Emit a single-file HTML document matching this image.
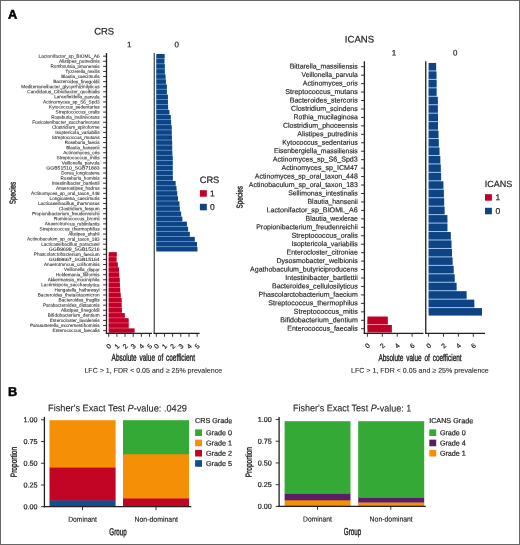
<!DOCTYPE html>
<html lang="en">
<head>
<meta charset="utf-8">
<title>Figure: CRS and ICANS species coefficients and grade proportions</title>
<style>
html,body{margin:0;padding:0;background:#fff;}
#fig{position:relative;width:520px;height:545px;overflow:hidden;background:#fff;}
#fig svg{position:absolute;left:0;top:0;display:block;}
#frame{position:absolute;left:0;top:0;width:518px;height:543px;border:1px solid #666;pointer-events:none;}
svg text{font-family:"Liberation Sans", sans-serif;fill:#231f20;stroke:#231f20;stroke-width:0.22px;stroke-linejoin:round;}
svg .sm text{stroke-width:0.07px;}
svg .md text{stroke-width:0.16px;}
svg text.lt{stroke-width:0.1px;}
</style>
</head>
<body>
<div id="fig">
<svg width="520" height="545" viewBox="0 0 520 545">
<defs><filter id="soft" x="-2%" y="-2%" width="104%" height="104%" color-interpolation-filters="sRGB"><feGaussianBlur stdDeviation="0.24"/></filter><filter id="soft2" x="-2%" y="-2%" width="104%" height="104%" color-interpolation-filters="sRGB"><feGaussianBlur stdDeviation="0.3"/></filter></defs>
<text x="8.00" y="18.80" font-size="12.8" font-weight="bold" transform="matrix(1 0.001 0 1 0 -0.0080)" fill="#000" style="fill:#000;stroke:#000;stroke-width:0.5px;stroke-linejoin:round">A</text>
<text x="8.00" y="396.10" font-size="12.8" font-weight="bold" transform="matrix(1 0.001 0 1 0 -0.0080)" fill="#000" style="fill:#000;stroke:#000;stroke-width:0.5px;stroke-linejoin:round">B</text>
<g>
<text x="94.30" y="34.50" font-size="9.4" transform="matrix(1 0.001 0 1 0 -0.0943)">CRS</text>
<text x="129.30" y="47.20" font-size="8" text-anchor="middle" transform="matrix(1 0.001 0 1 0 -0.1293)">1</text>
<text x="176.80" y="47.20" font-size="8" text-anchor="middle" transform="matrix(1 0.001 0 1 0 -0.1768)">0</text>
<rect x="156.30" y="56.20" width="8.10" height="5.08" fill="#7ab2f0"/>
<rect x="156.30" y="61.28" width="8.10" height="5.08" fill="#7ab2f0"/>
<rect x="156.30" y="66.36" width="8.50" height="5.08" fill="#7ab2f0"/>
<rect x="156.30" y="71.44" width="8.50" height="5.08" fill="#7ab2f0"/>
<rect x="156.30" y="76.52" width="9.20" height="5.08" fill="#7ab2f0"/>
<rect x="156.30" y="81.61" width="9.60" height="5.08" fill="#7ab2f0"/>
<rect x="156.30" y="86.69" width="10.55" height="5.08" fill="#7ab2f0"/>
<rect x="156.30" y="91.77" width="10.55" height="5.08" fill="#7ab2f0"/>
<rect x="156.30" y="96.85" width="11.60" height="5.08" fill="#7ab2f0"/>
<rect x="156.30" y="101.93" width="11.60" height="5.08" fill="#7ab2f0"/>
<rect x="156.30" y="107.01" width="11.80" height="5.08" fill="#7ab2f0"/>
<rect x="156.30" y="112.09" width="13.10" height="5.08" fill="#7ab2f0"/>
<rect x="156.30" y="117.17" width="14.50" height="5.08" fill="#7ab2f0"/>
<rect x="156.30" y="122.25" width="14.80" height="5.08" fill="#7ab2f0"/>
<rect x="156.30" y="127.33" width="15.40" height="5.08" fill="#7ab2f0"/>
<rect x="156.30" y="132.42" width="15.40" height="5.08" fill="#7ab2f0"/>
<rect x="156.30" y="137.50" width="15.60" height="5.08" fill="#7ab2f0"/>
<rect x="156.30" y="142.58" width="15.85" height="5.08" fill="#7ab2f0"/>
<rect x="156.30" y="147.66" width="15.85" height="5.08" fill="#7ab2f0"/>
<rect x="156.30" y="152.74" width="16.00" height="5.08" fill="#7ab2f0"/>
<rect x="156.30" y="157.82" width="16.40" height="5.08" fill="#7ab2f0"/>
<rect x="156.30" y="162.90" width="16.40" height="5.08" fill="#7ab2f0"/>
<rect x="156.30" y="167.98" width="16.40" height="5.08" fill="#7ab2f0"/>
<rect x="156.30" y="173.06" width="16.40" height="5.08" fill="#7ab2f0"/>
<rect x="156.30" y="178.14" width="16.55" height="5.08" fill="#7ab2f0"/>
<rect x="156.30" y="183.23" width="19.30" height="5.08" fill="#7ab2f0"/>
<rect x="156.30" y="188.31" width="20.20" height="5.08" fill="#7ab2f0"/>
<rect x="156.30" y="193.39" width="20.90" height="5.08" fill="#7ab2f0"/>
<rect x="156.30" y="198.47" width="21.70" height="5.08" fill="#7ab2f0"/>
<rect x="156.30" y="203.55" width="23.10" height="5.08" fill="#7ab2f0"/>
<rect x="156.30" y="208.63" width="23.50" height="5.08" fill="#7ab2f0"/>
<rect x="156.30" y="213.71" width="24.85" height="5.08" fill="#7ab2f0"/>
<rect x="156.30" y="218.79" width="26.00" height="5.08" fill="#7ab2f0"/>
<rect x="156.30" y="223.87" width="30.60" height="5.08" fill="#7ab2f0"/>
<rect x="156.30" y="228.95" width="31.80" height="5.08" fill="#7ab2f0"/>
<rect x="156.30" y="234.04" width="33.50" height="5.08" fill="#7ab2f0"/>
<rect x="156.30" y="239.12" width="38.50" height="5.08" fill="#7ab2f0"/>
<rect x="156.30" y="244.20" width="40.70" height="5.08" fill="#7ab2f0"/>
<rect x="108.70" y="254.36" width="7.80" height="5.08" fill="#ff6a80"/>
<rect x="108.70" y="259.44" width="7.80" height="5.08" fill="#ff6a80"/>
<rect x="108.70" y="264.52" width="9.10" height="5.08" fill="#ff6a80"/>
<rect x="108.70" y="269.60" width="10.30" height="5.08" fill="#ff6a80"/>
<rect x="108.70" y="274.68" width="10.50" height="5.08" fill="#ff6a80"/>
<rect x="108.70" y="279.76" width="11.00" height="5.08" fill="#ff6a80"/>
<rect x="108.70" y="284.85" width="11.20" height="5.08" fill="#ff6a80"/>
<rect x="108.70" y="289.93" width="11.50" height="5.08" fill="#ff6a80"/>
<rect x="108.70" y="295.01" width="12.00" height="5.08" fill="#ff6a80"/>
<rect x="108.70" y="300.09" width="12.90" height="5.08" fill="#ff6a80"/>
<rect x="108.70" y="305.17" width="12.90" height="5.08" fill="#ff6a80"/>
<rect x="108.70" y="310.25" width="13.20" height="5.08" fill="#ff6a80"/>
<rect x="108.70" y="315.33" width="16.10" height="5.08" fill="#ff6a80"/>
<rect x="108.70" y="320.41" width="19.95" height="5.08" fill="#ff6a80"/>
<rect x="108.70" y="325.49" width="19.95" height="5.08" fill="#ff6a80"/>
<rect x="156.30" y="53.98" width="8.35" height="4.45" fill="#0e4484"/>
<rect x="156.30" y="59.06" width="8.10" height="4.45" fill="#0e4484"/>
<rect x="156.30" y="64.14" width="8.50" height="4.45" fill="#0e4484"/>
<rect x="156.30" y="69.22" width="8.50" height="4.45" fill="#0e4484"/>
<rect x="156.30" y="74.30" width="9.20" height="4.45" fill="#0e4484"/>
<rect x="156.30" y="79.38" width="9.60" height="4.45" fill="#0e4484"/>
<rect x="156.30" y="84.46" width="10.55" height="4.45" fill="#0e4484"/>
<rect x="156.30" y="89.54" width="10.55" height="4.45" fill="#0e4484"/>
<rect x="156.30" y="94.62" width="11.60" height="4.45" fill="#0e4484"/>
<rect x="156.30" y="99.70" width="11.60" height="4.45" fill="#0e4484"/>
<rect x="156.30" y="104.79" width="11.80" height="4.45" fill="#0e4484"/>
<rect x="156.30" y="109.87" width="13.10" height="4.45" fill="#0e4484"/>
<rect x="156.30" y="114.95" width="14.50" height="4.45" fill="#0e4484"/>
<rect x="156.30" y="120.03" width="14.80" height="4.45" fill="#0e4484"/>
<rect x="156.30" y="125.11" width="15.40" height="4.45" fill="#0e4484"/>
<rect x="156.30" y="130.19" width="15.40" height="4.45" fill="#0e4484"/>
<rect x="156.30" y="135.27" width="15.60" height="4.45" fill="#0e4484"/>
<rect x="156.30" y="140.35" width="15.85" height="4.45" fill="#0e4484"/>
<rect x="156.30" y="145.43" width="15.85" height="4.45" fill="#0e4484"/>
<rect x="156.30" y="150.51" width="16.00" height="4.45" fill="#0e4484"/>
<rect x="156.30" y="155.59" width="16.40" height="4.45" fill="#0e4484"/>
<rect x="156.30" y="160.68" width="16.40" height="4.45" fill="#0e4484"/>
<rect x="156.30" y="165.76" width="16.40" height="4.45" fill="#0e4484"/>
<rect x="156.30" y="170.84" width="16.40" height="4.45" fill="#0e4484"/>
<rect x="156.30" y="175.92" width="16.55" height="4.45" fill="#0e4484"/>
<rect x="156.30" y="181.00" width="19.30" height="4.45" fill="#0e4484"/>
<rect x="156.30" y="186.08" width="20.20" height="4.45" fill="#0e4484"/>
<rect x="156.30" y="191.16" width="20.90" height="4.45" fill="#0e4484"/>
<rect x="156.30" y="196.24" width="21.70" height="4.45" fill="#0e4484"/>
<rect x="156.30" y="201.32" width="23.10" height="4.45" fill="#0e4484"/>
<rect x="156.30" y="206.41" width="23.50" height="4.45" fill="#0e4484"/>
<rect x="156.30" y="211.49" width="24.85" height="4.45" fill="#0e4484"/>
<rect x="156.30" y="216.57" width="26.00" height="4.45" fill="#0e4484"/>
<rect x="156.30" y="221.65" width="30.60" height="4.45" fill="#0e4484"/>
<rect x="156.30" y="226.73" width="31.80" height="4.45" fill="#0e4484"/>
<rect x="156.30" y="231.81" width="33.50" height="4.45" fill="#0e4484"/>
<rect x="156.30" y="236.89" width="38.50" height="4.45" fill="#0e4484"/>
<rect x="156.30" y="241.97" width="40.70" height="4.45" fill="#0e4484"/>
<rect x="156.30" y="247.05" width="41.20" height="4.45" fill="#0e4484"/>
<rect x="108.70" y="252.13" width="8.10" height="4.45" fill="#bf0029"/>
<rect x="108.70" y="257.21" width="7.80" height="4.45" fill="#bf0029"/>
<rect x="108.70" y="262.30" width="9.10" height="4.45" fill="#bf0029"/>
<rect x="108.70" y="267.38" width="10.30" height="4.45" fill="#bf0029"/>
<rect x="108.70" y="272.46" width="10.50" height="4.45" fill="#bf0029"/>
<rect x="108.70" y="277.54" width="11.00" height="4.45" fill="#bf0029"/>
<rect x="108.70" y="282.62" width="11.20" height="4.45" fill="#bf0029"/>
<rect x="108.70" y="287.70" width="11.50" height="4.45" fill="#bf0029"/>
<rect x="108.70" y="292.78" width="12.00" height="4.45" fill="#bf0029"/>
<rect x="108.70" y="297.86" width="12.90" height="4.45" fill="#bf0029"/>
<rect x="108.70" y="302.94" width="12.90" height="4.45" fill="#bf0029"/>
<rect x="108.70" y="308.02" width="13.20" height="4.45" fill="#bf0029"/>
<rect x="108.70" y="313.11" width="16.10" height="4.45" fill="#bf0029"/>
<rect x="108.70" y="318.19" width="19.95" height="4.45" fill="#bf0029"/>
<rect x="108.70" y="323.27" width="19.95" height="4.45" fill="#bf0029"/>
<rect x="108.70" y="328.35" width="25.90" height="4.45" fill="#bf0029"/>
<line x1="106.50" y1="53.00" x2="106.50" y2="334.00" stroke="#231f20" stroke-width="1.3"/>
<line x1="154.25" y1="53.00" x2="154.25" y2="334.00" stroke="#33373d" stroke-width="1.15"/>
<line x1="105.85" y1="333.40" x2="152.00" y2="333.40" stroke="#231f20" stroke-width="1.3"/>
<line x1="153.60" y1="333.40" x2="199.60" y2="333.40" stroke="#231f20" stroke-width="1.3"/>
<line x1="103.10" y1="56.20" x2="106.50" y2="56.20" stroke="#231f20" stroke-width="0.9"/>
<line x1="103.10" y1="61.28" x2="106.50" y2="61.28" stroke="#231f20" stroke-width="0.9"/>
<line x1="103.10" y1="66.36" x2="106.50" y2="66.36" stroke="#231f20" stroke-width="0.9"/>
<line x1="103.10" y1="71.44" x2="106.50" y2="71.44" stroke="#231f20" stroke-width="0.9"/>
<line x1="103.10" y1="76.52" x2="106.50" y2="76.52" stroke="#231f20" stroke-width="0.9"/>
<line x1="103.10" y1="81.61" x2="106.50" y2="81.61" stroke="#231f20" stroke-width="0.9"/>
<line x1="103.10" y1="86.69" x2="106.50" y2="86.69" stroke="#231f20" stroke-width="0.9"/>
<line x1="103.10" y1="91.77" x2="106.50" y2="91.77" stroke="#231f20" stroke-width="0.9"/>
<line x1="103.10" y1="96.85" x2="106.50" y2="96.85" stroke="#231f20" stroke-width="0.9"/>
<line x1="103.10" y1="101.93" x2="106.50" y2="101.93" stroke="#231f20" stroke-width="0.9"/>
<line x1="103.10" y1="107.01" x2="106.50" y2="107.01" stroke="#231f20" stroke-width="0.9"/>
<line x1="103.10" y1="112.09" x2="106.50" y2="112.09" stroke="#231f20" stroke-width="0.9"/>
<line x1="103.10" y1="117.17" x2="106.50" y2="117.17" stroke="#231f20" stroke-width="0.9"/>
<line x1="103.10" y1="122.25" x2="106.50" y2="122.25" stroke="#231f20" stroke-width="0.9"/>
<line x1="103.10" y1="127.33" x2="106.50" y2="127.33" stroke="#231f20" stroke-width="0.9"/>
<line x1="103.10" y1="132.42" x2="106.50" y2="132.42" stroke="#231f20" stroke-width="0.9"/>
<line x1="103.10" y1="137.50" x2="106.50" y2="137.50" stroke="#231f20" stroke-width="0.9"/>
<line x1="103.10" y1="142.58" x2="106.50" y2="142.58" stroke="#231f20" stroke-width="0.9"/>
<line x1="103.10" y1="147.66" x2="106.50" y2="147.66" stroke="#231f20" stroke-width="0.9"/>
<line x1="103.10" y1="152.74" x2="106.50" y2="152.74" stroke="#231f20" stroke-width="0.9"/>
<line x1="103.10" y1="157.82" x2="106.50" y2="157.82" stroke="#231f20" stroke-width="0.9"/>
<line x1="103.10" y1="162.90" x2="106.50" y2="162.90" stroke="#231f20" stroke-width="0.9"/>
<line x1="103.10" y1="167.98" x2="106.50" y2="167.98" stroke="#231f20" stroke-width="0.9"/>
<line x1="103.10" y1="173.06" x2="106.50" y2="173.06" stroke="#231f20" stroke-width="0.9"/>
<line x1="103.10" y1="178.14" x2="106.50" y2="178.14" stroke="#231f20" stroke-width="0.9"/>
<line x1="103.10" y1="183.23" x2="106.50" y2="183.23" stroke="#231f20" stroke-width="0.9"/>
<line x1="103.10" y1="188.31" x2="106.50" y2="188.31" stroke="#231f20" stroke-width="0.9"/>
<line x1="103.10" y1="193.39" x2="106.50" y2="193.39" stroke="#231f20" stroke-width="0.9"/>
<line x1="103.10" y1="198.47" x2="106.50" y2="198.47" stroke="#231f20" stroke-width="0.9"/>
<line x1="103.10" y1="203.55" x2="106.50" y2="203.55" stroke="#231f20" stroke-width="0.9"/>
<line x1="103.10" y1="208.63" x2="106.50" y2="208.63" stroke="#231f20" stroke-width="0.9"/>
<line x1="103.10" y1="213.71" x2="106.50" y2="213.71" stroke="#231f20" stroke-width="0.9"/>
<line x1="103.10" y1="218.79" x2="106.50" y2="218.79" stroke="#231f20" stroke-width="0.9"/>
<line x1="103.10" y1="223.87" x2="106.50" y2="223.87" stroke="#231f20" stroke-width="0.9"/>
<line x1="103.10" y1="228.95" x2="106.50" y2="228.95" stroke="#231f20" stroke-width="0.9"/>
<line x1="103.10" y1="234.04" x2="106.50" y2="234.04" stroke="#231f20" stroke-width="0.9"/>
<line x1="103.10" y1="239.12" x2="106.50" y2="239.12" stroke="#231f20" stroke-width="0.9"/>
<line x1="103.10" y1="244.20" x2="106.50" y2="244.20" stroke="#231f20" stroke-width="0.9"/>
<line x1="103.10" y1="249.28" x2="106.50" y2="249.28" stroke="#231f20" stroke-width="0.9"/>
<line x1="103.10" y1="254.36" x2="106.50" y2="254.36" stroke="#231f20" stroke-width="0.9"/>
<line x1="103.10" y1="259.44" x2="106.50" y2="259.44" stroke="#231f20" stroke-width="0.9"/>
<line x1="103.10" y1="264.52" x2="106.50" y2="264.52" stroke="#231f20" stroke-width="0.9"/>
<line x1="103.10" y1="269.60" x2="106.50" y2="269.60" stroke="#231f20" stroke-width="0.9"/>
<line x1="103.10" y1="274.68" x2="106.50" y2="274.68" stroke="#231f20" stroke-width="0.9"/>
<line x1="103.10" y1="279.76" x2="106.50" y2="279.76" stroke="#231f20" stroke-width="0.9"/>
<line x1="103.10" y1="284.85" x2="106.50" y2="284.85" stroke="#231f20" stroke-width="0.9"/>
<line x1="103.10" y1="289.93" x2="106.50" y2="289.93" stroke="#231f20" stroke-width="0.9"/>
<line x1="103.10" y1="295.01" x2="106.50" y2="295.01" stroke="#231f20" stroke-width="0.9"/>
<line x1="103.10" y1="300.09" x2="106.50" y2="300.09" stroke="#231f20" stroke-width="0.9"/>
<line x1="103.10" y1="305.17" x2="106.50" y2="305.17" stroke="#231f20" stroke-width="0.9"/>
<line x1="103.10" y1="310.25" x2="106.50" y2="310.25" stroke="#231f20" stroke-width="0.9"/>
<line x1="103.10" y1="315.33" x2="106.50" y2="315.33" stroke="#231f20" stroke-width="0.9"/>
<line x1="103.10" y1="320.41" x2="106.50" y2="320.41" stroke="#231f20" stroke-width="0.9"/>
<line x1="103.10" y1="325.49" x2="106.50" y2="325.49" stroke="#231f20" stroke-width="0.9"/>
<line x1="103.10" y1="330.57" x2="106.50" y2="330.57" stroke="#231f20" stroke-width="0.9"/>
<g class="sm" font-size="4.7" text-anchor="end" filter="url(#soft)">
<text x="99.60" y="57.75" textLength="61.09" lengthAdjust="spacingAndGlyphs" transform="matrix(1 0.001 0 1 0 -0.0996)">Lactonifactor_sp_BIOML_A6</text>
<text x="99.60" y="62.83" textLength="40.49" lengthAdjust="spacingAndGlyphs" transform="matrix(1 0.001 0 1 0 -0.0996)">Alistipes_putredinis</text>
<text x="99.60" y="67.91" textLength="49.06" lengthAdjust="spacingAndGlyphs" transform="matrix(1 0.001 0 1 0 -0.0996)">Romboutsia_timonensis</text>
<text x="99.60" y="72.99" textLength="34.03" lengthAdjust="spacingAndGlyphs" transform="matrix(1 0.001 0 1 0 -0.0996)">Tyzzerella_nexilis</text>
<text x="99.60" y="78.07" textLength="38.45" lengthAdjust="spacingAndGlyphs" transform="matrix(1 0.001 0 1 0 -0.0996)">Blautia_caecimuris</text>
<text x="99.60" y="83.16" textLength="46.39" lengthAdjust="spacingAndGlyphs" transform="matrix(1 0.001 0 1 0 -0.0996)">Bacteroides_finegoldii</text>
<text x="99.60" y="88.24" textLength="78.26" lengthAdjust="spacingAndGlyphs" transform="matrix(1 0.001 0 1 0 -0.0996)">Mediterraneibacter_glycyrrhizinilyticus</text>
<text x="99.60" y="93.32" textLength="72.31" lengthAdjust="spacingAndGlyphs" transform="matrix(1 0.001 0 1 0 -0.0996)">Candidatus_Cibiobacter_qucibialis</text>
<text x="99.60" y="98.40" textLength="45.47" lengthAdjust="spacingAndGlyphs" transform="matrix(1 0.001 0 1 0 -0.0996)">Lancefieldella_parvula</text>
<text x="99.60" y="103.48" textLength="56.52" lengthAdjust="spacingAndGlyphs" transform="matrix(1 0.001 0 1 0 -0.0996)">Actinomyces_sp_S6_Spd3</text>
<text x="99.60" y="108.56" textLength="50.50" lengthAdjust="spacingAndGlyphs" transform="matrix(1 0.001 0 1 0 -0.0996)">Kytococcus_sedentarius</text>
<text x="99.60" y="113.64" textLength="43.98" lengthAdjust="spacingAndGlyphs" transform="matrix(1 0.001 0 1 0 -0.0996)">Streptococcus_oralis</text>
<text x="99.60" y="118.72" textLength="48.41" lengthAdjust="spacingAndGlyphs" transform="matrix(1 0.001 0 1 0 -0.0996)">Roseburia_inulinivorans</text>
<text x="99.60" y="123.80" textLength="67.41" lengthAdjust="spacingAndGlyphs" transform="matrix(1 0.001 0 1 0 -0.0996)">Fusicatenibacter_saccharivorans</text>
<text x="99.60" y="128.88" textLength="47.72" lengthAdjust="spacingAndGlyphs" transform="matrix(1 0.001 0 1 0 -0.0996)">Clostridium_spiroforme</text>
<text x="99.60" y="133.97" textLength="44.33" lengthAdjust="spacingAndGlyphs" transform="matrix(1 0.001 0 1 0 -0.0996)">Isoptericola_variabilis</text>
<text x="99.60" y="139.05" textLength="47.81" lengthAdjust="spacingAndGlyphs" transform="matrix(1 0.001 0 1 0 -0.0996)">Streptococcus_mutans</text>
<text x="99.60" y="144.13" textLength="34.92" lengthAdjust="spacingAndGlyphs" transform="matrix(1 0.001 0 1 0 -0.0996)">Roseburia_faecis</text>
<text x="99.60" y="149.21" textLength="33.39" lengthAdjust="spacingAndGlyphs" transform="matrix(1 0.001 0 1 0 -0.0996)">Blautia_hansenii</text>
<text x="99.60" y="154.29" textLength="36.43" lengthAdjust="spacingAndGlyphs" transform="matrix(1 0.001 0 1 0 -0.0996)">Actinomyces_oris</text>
<text x="99.60" y="159.37" textLength="43.15" lengthAdjust="spacingAndGlyphs" transform="matrix(1 0.001 0 1 0 -0.0996)">Streptococcus_mitis</text>
<text x="99.60" y="164.45" textLength="37.80" lengthAdjust="spacingAndGlyphs" transform="matrix(1 0.001 0 1 0 -0.0996)">Veillonella_parvula</text>
<text x="99.60" y="169.53" textLength="53.33" lengthAdjust="spacingAndGlyphs" transform="matrix(1 0.001 0 1 0 -0.0996)">GGB51510_SGB71883</text>
<text x="99.60" y="174.61" textLength="38.36" lengthAdjust="spacingAndGlyphs" transform="matrix(1 0.001 0 1 0 -0.0996)">Dorea_longicatena</text>
<text x="99.60" y="179.69" textLength="39.03" lengthAdjust="spacingAndGlyphs" transform="matrix(1 0.001 0 1 0 -0.0996)">Roseburia_hominis</text>
<text x="99.60" y="184.78" textLength="47.93" lengthAdjust="spacingAndGlyphs" transform="matrix(1 0.001 0 1 0 -0.0996)">Intestinibacter_bartlettii</text>
<text x="99.60" y="189.86" textLength="43.72" lengthAdjust="spacingAndGlyphs" transform="matrix(1 0.001 0 1 0 -0.0996)">Anaerostipes_hadrus</text>
<text x="99.60" y="194.94" textLength="68.54" lengthAdjust="spacingAndGlyphs" transform="matrix(1 0.001 0 1 0 -0.0996)">Actinomyces_sp_oral_taxon_448</text>
<text x="99.60" y="200.02" textLength="49.99" lengthAdjust="spacingAndGlyphs" transform="matrix(1 0.001 0 1 0 -0.0996)">Longicatena_caecimuris</text>
<text x="99.60" y="205.10" textLength="61.64" lengthAdjust="spacingAndGlyphs" transform="matrix(1 0.001 0 1 0 -0.0996)">Lacticaseibacillus_rhamnosus</text>
<text x="99.60" y="210.18" textLength="40.57" lengthAdjust="spacingAndGlyphs" transform="matrix(1 0.001 0 1 0 -0.0996)">Clostridium_fessum</text>
<text x="99.60" y="215.26" textLength="67.71" lengthAdjust="spacingAndGlyphs" transform="matrix(1 0.001 0 1 0 -0.0996)">Propionibacterium_freudenreichii</text>
<text x="99.60" y="220.34" textLength="45.53" lengthAdjust="spacingAndGlyphs" transform="matrix(1 0.001 0 1 0 -0.0996)">Ruminococcus_bromii</text>
<text x="99.60" y="225.42" textLength="54.81" lengthAdjust="spacingAndGlyphs" transform="matrix(1 0.001 0 1 0 -0.0996)">Anaerotruncus_rubiinfantis</text>
<text x="99.60" y="230.50" textLength="60.10" lengthAdjust="spacingAndGlyphs" transform="matrix(1 0.001 0 1 0 -0.0996)">Streptococcus_thermophilus</text>
<text x="99.60" y="235.59" textLength="31.40" lengthAdjust="spacingAndGlyphs" transform="matrix(1 0.001 0 1 0 -0.0996)">Alistipes_shahii</text>
<text x="99.60" y="240.67" textLength="72.62" lengthAdjust="spacingAndGlyphs" transform="matrix(1 0.001 0 1 0 -0.0996)">Actinobaculum_sp_oral_taxon_183</text>
<text x="99.60" y="245.75" textLength="58.47" lengthAdjust="spacingAndGlyphs" transform="matrix(1 0.001 0 1 0 -0.0996)">Lacticaseibacillus_paracasei</text>
<text x="99.60" y="250.83" textLength="50.71" lengthAdjust="spacingAndGlyphs" transform="matrix(1 0.001 0 1 0 -0.0996)">GGB9699_SGB15216</text>
<text x="99.60" y="255.91" textLength="65.78" lengthAdjust="spacingAndGlyphs" transform="matrix(1 0.001 0 1 0 -0.0996)">Phascolarctobacterium_faecium</text>
<text x="99.60" y="260.99" textLength="50.71" lengthAdjust="spacingAndGlyphs" transform="matrix(1 0.001 0 1 0 -0.0996)">GGB9667_SGB15164</text>
<text x="99.60" y="266.07" textLength="55.63" lengthAdjust="spacingAndGlyphs" transform="matrix(1 0.001 0 1 0 -0.0996)">Anaerotruncus_colihominis</text>
<text x="99.60" y="271.15" textLength="35.48" lengthAdjust="spacingAndGlyphs" transform="matrix(1 0.001 0 1 0 -0.0996)">Veillonella_dispar</text>
<text x="99.60" y="276.23" textLength="43.83" lengthAdjust="spacingAndGlyphs" transform="matrix(1 0.001 0 1 0 -0.0996)">Holdemania_filiformis</text>
<text x="99.60" y="281.31" textLength="51.89" lengthAdjust="spacingAndGlyphs" transform="matrix(1 0.001 0 1 0 -0.0996)">Akkermansia_muciniphila</text>
<text x="99.60" y="286.40" textLength="58.30" lengthAdjust="spacingAndGlyphs" transform="matrix(1 0.001 0 1 0 -0.0996)">Lacrimispora_saccharolytica</text>
<text x="99.60" y="291.48" textLength="45.15" lengthAdjust="spacingAndGlyphs" transform="matrix(1 0.001 0 1 0 -0.0996)">Hungatella_hathewayi</text>
<text x="99.60" y="296.56" textLength="61.88" lengthAdjust="spacingAndGlyphs" transform="matrix(1 0.001 0 1 0 -0.0996)">Bacteroides_thetaiotaomicron</text>
<text x="99.60" y="301.64" textLength="41.02" lengthAdjust="spacingAndGlyphs" transform="matrix(1 0.001 0 1 0 -0.0996)">Bacteroides_fragilis</text>
<text x="99.60" y="306.72" textLength="56.64" lengthAdjust="spacingAndGlyphs" transform="matrix(1 0.001 0 1 0 -0.0996)">Parabacteroides_distasonis</text>
<text x="99.60" y="311.80" textLength="38.67" lengthAdjust="spacingAndGlyphs" transform="matrix(1 0.001 0 1 0 -0.0996)">Alistipes_finegoldii</text>
<text x="99.60" y="316.88" textLength="51.73" lengthAdjust="spacingAndGlyphs" transform="matrix(1 0.001 0 1 0 -0.0996)">Bifidobacterium_dentium</text>
<text x="99.60" y="321.96" textLength="49.84" lengthAdjust="spacingAndGlyphs" transform="matrix(1 0.001 0 1 0 -0.0996)">Enterocloster_lavalensis</text>
<text x="99.60" y="327.04" textLength="69.69" lengthAdjust="spacingAndGlyphs" transform="matrix(1 0.001 0 1 0 -0.0996)">Parasutterella_excrementihominis</text>
<text x="99.60" y="332.12" textLength="47.03" lengthAdjust="spacingAndGlyphs" transform="matrix(1 0.001 0 1 0 -0.0996)">Enterococcus_faecalis</text>
</g>
<line x1="108.70" y1="333.40" x2="108.70" y2="336.80" stroke="#231f20" stroke-width="0.9"/>
<text font-size="6.8" text-anchor="middle" transform="translate(108.70 346.10) rotate(-45)" y="2.45" stroke="#231f20" stroke-width="0.25">0</text>
<line x1="116.87" y1="333.40" x2="116.87" y2="336.80" stroke="#231f20" stroke-width="0.9"/>
<text font-size="6.8" text-anchor="middle" transform="translate(116.87 346.10) rotate(-45)" y="2.45" stroke="#231f20" stroke-width="0.25">1</text>
<line x1="125.04" y1="333.40" x2="125.04" y2="336.80" stroke="#231f20" stroke-width="0.9"/>
<text font-size="6.8" text-anchor="middle" transform="translate(125.04 346.10) rotate(-45)" y="2.45" stroke="#231f20" stroke-width="0.25">2</text>
<line x1="133.21" y1="333.40" x2="133.21" y2="336.80" stroke="#231f20" stroke-width="0.9"/>
<text font-size="6.8" text-anchor="middle" transform="translate(133.21 346.10) rotate(-45)" y="2.45" stroke="#231f20" stroke-width="0.25">3</text>
<line x1="141.38" y1="333.40" x2="141.38" y2="336.80" stroke="#231f20" stroke-width="0.9"/>
<text font-size="6.8" text-anchor="middle" transform="translate(141.38 346.10) rotate(-45)" y="2.45" stroke="#231f20" stroke-width="0.25">4</text>
<line x1="149.55" y1="333.40" x2="149.55" y2="336.80" stroke="#231f20" stroke-width="0.9"/>
<text font-size="6.8" text-anchor="middle" transform="translate(149.55 346.10) rotate(-45)" y="2.45" stroke="#231f20" stroke-width="0.25">5</text>
<line x1="156.30" y1="333.40" x2="156.30" y2="336.80" stroke="#231f20" stroke-width="0.9"/>
<text font-size="6.8" text-anchor="middle" transform="translate(156.30 346.10) rotate(-45)" y="2.45" stroke="#231f20" stroke-width="0.25">0</text>
<line x1="164.47" y1="333.40" x2="164.47" y2="336.80" stroke="#231f20" stroke-width="0.9"/>
<text font-size="6.8" text-anchor="middle" transform="translate(164.47 346.10) rotate(-45)" y="2.45" stroke="#231f20" stroke-width="0.25">1</text>
<line x1="172.64" y1="333.40" x2="172.64" y2="336.80" stroke="#231f20" stroke-width="0.9"/>
<text font-size="6.8" text-anchor="middle" transform="translate(172.64 346.10) rotate(-45)" y="2.45" stroke="#231f20" stroke-width="0.25">2</text>
<line x1="180.81" y1="333.40" x2="180.81" y2="336.80" stroke="#231f20" stroke-width="0.9"/>
<text font-size="6.8" text-anchor="middle" transform="translate(180.81 346.10) rotate(-45)" y="2.45" stroke="#231f20" stroke-width="0.25">3</text>
<line x1="188.98" y1="333.40" x2="188.98" y2="336.80" stroke="#231f20" stroke-width="0.9"/>
<text font-size="6.8" text-anchor="middle" transform="translate(188.98 346.10) rotate(-45)" y="2.45" stroke="#231f20" stroke-width="0.25">4</text>
<line x1="197.15" y1="333.40" x2="197.15" y2="336.80" stroke="#231f20" stroke-width="0.9"/>
<text font-size="6.8" text-anchor="middle" transform="translate(197.15 346.10) rotate(-45)" y="2.45" stroke="#231f20" stroke-width="0.25">5</text>
<text x="15.40" y="204.25" font-size="8.6" textLength="22.50" lengthAdjust="spacingAndGlyphs" transform="rotate(-89.95 15.40 204.25)" style="stroke-width:0.4px">Species</text>
<text x="111.60" y="360.80" font-size="9.8" textLength="83.40" lengthAdjust="spacingAndGlyphs" transform="matrix(1 0.001 0 1 0 -0.1116)" style="stroke-width:0.4px" word-spacing="1.6">Absolute value of coefficient</text>
<text x="84.40" y="372.70" font-size="7" textLength="137.80" lengthAdjust="spacingAndGlyphs" transform="matrix(1 0.001 0 1 0 -0.0844)" class="lt">LFC &gt; 1, FDR &lt; 0.05 and ≥ 25% prevalence</text>
</g>
<text x="199.70" y="182.90" font-size="9.3" transform="matrix(1 0.001 0 1 0 -0.1997)">CRS</text>
<rect x="199.90" y="190.20" width="6.90" height="6.50" fill="#bf0029"/>
<rect x="199.90" y="203.80" width="6.90" height="6.50" fill="#0e4484"/>
<text x="210.00" y="196.40" font-size="8.5" transform="matrix(1 0.001 0 1 0 -0.2100)">1</text>
<text x="210.00" y="209.90" font-size="8.5" transform="matrix(1 0.001 0 1 0 -0.2100)">0</text>
<g>
<text x="344.80" y="42.50" font-size="9.6" transform="matrix(1 0.001 0 1 0 -0.3448)">ICANS</text>
<text x="394.00" y="55.50" font-size="8" text-anchor="middle" transform="matrix(1 0.001 0 1 0 -0.3940)">1</text>
<text x="455.20" y="55.50" font-size="8" text-anchor="middle" transform="matrix(1 0.001 0 1 0 -0.4552)">0</text>
<rect x="428.60" y="66.70" width="7.55" height="8.45" fill="#a6cdf6"/>
<rect x="428.60" y="75.15" width="7.90" height="8.45" fill="#a6cdf6"/>
<rect x="428.60" y="83.61" width="8.00" height="8.45" fill="#a6cdf6"/>
<rect x="428.60" y="92.06" width="8.00" height="8.45" fill="#a6cdf6"/>
<rect x="428.60" y="100.51" width="9.25" height="8.45" fill="#a6cdf6"/>
<rect x="428.60" y="108.97" width="9.25" height="8.45" fill="#a6cdf6"/>
<rect x="428.60" y="117.42" width="9.40" height="8.45" fill="#a6cdf6"/>
<rect x="428.60" y="125.87" width="9.40" height="8.45" fill="#a6cdf6"/>
<rect x="428.60" y="134.32" width="9.90" height="8.45" fill="#a6cdf6"/>
<rect x="428.60" y="142.78" width="10.20" height="8.45" fill="#a6cdf6"/>
<rect x="428.60" y="151.23" width="10.90" height="8.45" fill="#a6cdf6"/>
<rect x="428.60" y="159.68" width="11.70" height="8.45" fill="#a6cdf6"/>
<rect x="428.60" y="168.14" width="12.20" height="8.45" fill="#a6cdf6"/>
<rect x="428.60" y="176.59" width="12.50" height="8.45" fill="#a6cdf6"/>
<rect x="428.60" y="185.04" width="14.80" height="8.45" fill="#a6cdf6"/>
<rect x="428.60" y="193.50" width="15.25" height="8.45" fill="#a6cdf6"/>
<rect x="428.60" y="201.95" width="15.55" height="8.45" fill="#a6cdf6"/>
<rect x="428.60" y="210.40" width="16.00" height="8.45" fill="#a6cdf6"/>
<rect x="428.60" y="218.85" width="18.80" height="8.45" fill="#a6cdf6"/>
<rect x="428.60" y="227.31" width="18.80" height="8.45" fill="#a6cdf6"/>
<rect x="428.60" y="235.76" width="22.20" height="8.45" fill="#a6cdf6"/>
<rect x="428.60" y="244.21" width="22.90" height="8.45" fill="#a6cdf6"/>
<rect x="428.60" y="252.67" width="23.40" height="8.45" fill="#a6cdf6"/>
<rect x="428.60" y="261.12" width="24.00" height="8.45" fill="#a6cdf6"/>
<rect x="428.60" y="269.57" width="25.10" height="8.45" fill="#a6cdf6"/>
<rect x="428.60" y="278.02" width="26.10" height="8.45" fill="#a6cdf6"/>
<rect x="428.60" y="286.48" width="28.00" height="8.45" fill="#a6cdf6"/>
<rect x="428.60" y="294.93" width="38.00" height="8.45" fill="#a6cdf6"/>
<rect x="428.60" y="303.38" width="45.70" height="8.45" fill="#a6cdf6"/>
<rect x="367.40" y="320.29" width="20.40" height="8.45" fill="#ff8a9c"/>
<rect x="428.60" y="62.95" width="7.55" height="7.50" fill="#0e4484"/>
<rect x="428.60" y="71.40" width="7.90" height="7.50" fill="#0e4484"/>
<rect x="428.60" y="79.86" width="8.00" height="7.50" fill="#0e4484"/>
<rect x="428.60" y="88.31" width="8.00" height="7.50" fill="#0e4484"/>
<rect x="428.60" y="96.76" width="9.25" height="7.50" fill="#0e4484"/>
<rect x="428.60" y="105.22" width="9.25" height="7.50" fill="#0e4484"/>
<rect x="428.60" y="113.67" width="9.40" height="7.50" fill="#0e4484"/>
<rect x="428.60" y="122.12" width="9.40" height="7.50" fill="#0e4484"/>
<rect x="428.60" y="130.57" width="9.90" height="7.50" fill="#0e4484"/>
<rect x="428.60" y="139.03" width="10.20" height="7.50" fill="#0e4484"/>
<rect x="428.60" y="147.48" width="10.90" height="7.50" fill="#0e4484"/>
<rect x="428.60" y="155.93" width="11.70" height="7.50" fill="#0e4484"/>
<rect x="428.60" y="164.39" width="12.20" height="7.50" fill="#0e4484"/>
<rect x="428.60" y="172.84" width="12.50" height="7.50" fill="#0e4484"/>
<rect x="428.60" y="181.29" width="14.80" height="7.50" fill="#0e4484"/>
<rect x="428.60" y="189.75" width="15.25" height="7.50" fill="#0e4484"/>
<rect x="428.60" y="198.20" width="15.55" height="7.50" fill="#0e4484"/>
<rect x="428.60" y="206.65" width="16.00" height="7.50" fill="#0e4484"/>
<rect x="428.60" y="215.10" width="18.80" height="7.50" fill="#0e4484"/>
<rect x="428.60" y="223.56" width="18.80" height="7.50" fill="#0e4484"/>
<rect x="428.60" y="232.01" width="22.20" height="7.50" fill="#0e4484"/>
<rect x="428.60" y="240.46" width="22.90" height="7.50" fill="#0e4484"/>
<rect x="428.60" y="248.92" width="23.40" height="7.50" fill="#0e4484"/>
<rect x="428.60" y="257.37" width="24.00" height="7.50" fill="#0e4484"/>
<rect x="428.60" y="265.82" width="25.10" height="7.50" fill="#0e4484"/>
<rect x="428.60" y="274.27" width="26.10" height="7.50" fill="#0e4484"/>
<rect x="428.60" y="282.73" width="28.00" height="7.50" fill="#0e4484"/>
<rect x="428.60" y="291.18" width="38.00" height="7.50" fill="#0e4484"/>
<rect x="428.60" y="299.63" width="45.70" height="7.50" fill="#0e4484"/>
<rect x="428.60" y="308.09" width="53.40" height="7.50" fill="#0e4484"/>
<rect x="367.40" y="316.54" width="20.40" height="7.50" fill="#bf0029"/>
<rect x="367.40" y="324.99" width="24.50" height="7.50" fill="#bf0029"/>
<line x1="364.40" y1="61.30" x2="364.40" y2="333.90" stroke="#231f20" stroke-width="1.3"/>
<line x1="425.75" y1="61.30" x2="425.75" y2="333.90" stroke="#231f20" stroke-width="1.3"/>
<line x1="363.75" y1="333.30" x2="423.40" y2="333.30" stroke="#231f20" stroke-width="1.3"/>
<line x1="425.10" y1="333.30" x2="485.00" y2="333.30" stroke="#231f20" stroke-width="1.3"/>
<line x1="361.00" y1="66.70" x2="364.40" y2="66.70" stroke="#231f20" stroke-width="0.9"/>
<line x1="361.00" y1="75.15" x2="364.40" y2="75.15" stroke="#231f20" stroke-width="0.9"/>
<line x1="361.00" y1="83.61" x2="364.40" y2="83.61" stroke="#231f20" stroke-width="0.9"/>
<line x1="361.00" y1="92.06" x2="364.40" y2="92.06" stroke="#231f20" stroke-width="0.9"/>
<line x1="361.00" y1="100.51" x2="364.40" y2="100.51" stroke="#231f20" stroke-width="0.9"/>
<line x1="361.00" y1="108.97" x2="364.40" y2="108.97" stroke="#231f20" stroke-width="0.9"/>
<line x1="361.00" y1="117.42" x2="364.40" y2="117.42" stroke="#231f20" stroke-width="0.9"/>
<line x1="361.00" y1="125.87" x2="364.40" y2="125.87" stroke="#231f20" stroke-width="0.9"/>
<line x1="361.00" y1="134.32" x2="364.40" y2="134.32" stroke="#231f20" stroke-width="0.9"/>
<line x1="361.00" y1="142.78" x2="364.40" y2="142.78" stroke="#231f20" stroke-width="0.9"/>
<line x1="361.00" y1="151.23" x2="364.40" y2="151.23" stroke="#231f20" stroke-width="0.9"/>
<line x1="361.00" y1="159.68" x2="364.40" y2="159.68" stroke="#231f20" stroke-width="0.9"/>
<line x1="361.00" y1="168.14" x2="364.40" y2="168.14" stroke="#231f20" stroke-width="0.9"/>
<line x1="361.00" y1="176.59" x2="364.40" y2="176.59" stroke="#231f20" stroke-width="0.9"/>
<line x1="361.00" y1="185.04" x2="364.40" y2="185.04" stroke="#231f20" stroke-width="0.9"/>
<line x1="361.00" y1="193.50" x2="364.40" y2="193.50" stroke="#231f20" stroke-width="0.9"/>
<line x1="361.00" y1="201.95" x2="364.40" y2="201.95" stroke="#231f20" stroke-width="0.9"/>
<line x1="361.00" y1="210.40" x2="364.40" y2="210.40" stroke="#231f20" stroke-width="0.9"/>
<line x1="361.00" y1="218.85" x2="364.40" y2="218.85" stroke="#231f20" stroke-width="0.9"/>
<line x1="361.00" y1="227.31" x2="364.40" y2="227.31" stroke="#231f20" stroke-width="0.9"/>
<line x1="361.00" y1="235.76" x2="364.40" y2="235.76" stroke="#231f20" stroke-width="0.9"/>
<line x1="361.00" y1="244.21" x2="364.40" y2="244.21" stroke="#231f20" stroke-width="0.9"/>
<line x1="361.00" y1="252.67" x2="364.40" y2="252.67" stroke="#231f20" stroke-width="0.9"/>
<line x1="361.00" y1="261.12" x2="364.40" y2="261.12" stroke="#231f20" stroke-width="0.9"/>
<line x1="361.00" y1="269.57" x2="364.40" y2="269.57" stroke="#231f20" stroke-width="0.9"/>
<line x1="361.00" y1="278.02" x2="364.40" y2="278.02" stroke="#231f20" stroke-width="0.9"/>
<line x1="361.00" y1="286.48" x2="364.40" y2="286.48" stroke="#231f20" stroke-width="0.9"/>
<line x1="361.00" y1="294.93" x2="364.40" y2="294.93" stroke="#231f20" stroke-width="0.9"/>
<line x1="361.00" y1="303.38" x2="364.40" y2="303.38" stroke="#231f20" stroke-width="0.9"/>
<line x1="361.00" y1="311.84" x2="364.40" y2="311.84" stroke="#231f20" stroke-width="0.9"/>
<line x1="361.00" y1="320.29" x2="364.40" y2="320.29" stroke="#231f20" stroke-width="0.9"/>
<line x1="361.00" y1="328.74" x2="364.40" y2="328.74" stroke="#231f20" stroke-width="0.9"/>
<g class="md" font-size="7.05" text-anchor="end" filter="url(#soft2)">
<text x="357.80" y="68.65" textLength="68.15" lengthAdjust="spacingAndGlyphs" transform="matrix(1 0.001 0 1 0 -0.3578)">Bittarella_massiliensis</text>
<text x="357.80" y="77.10" textLength="56.29" lengthAdjust="spacingAndGlyphs" transform="matrix(1 0.001 0 1 0 -0.3578)">Veillonella_parvula</text>
<text x="357.80" y="85.56" textLength="54.94" lengthAdjust="spacingAndGlyphs" transform="matrix(1 0.001 0 1 0 -0.3578)">Actinomyces_oris</text>
<text x="357.80" y="94.01" textLength="72.51" lengthAdjust="spacingAndGlyphs" transform="matrix(1 0.001 0 1 0 -0.3578)">Streptococcus_mutans</text>
<text x="357.80" y="102.46" textLength="68.09" lengthAdjust="spacingAndGlyphs" transform="matrix(1 0.001 0 1 0 -0.3578)">Bacteroides_stercoris</text>
<text x="357.80" y="110.92" textLength="66.70" lengthAdjust="spacingAndGlyphs" transform="matrix(1 0.001 0 1 0 -0.3578)">Clostridium_scindens</text>
<text x="357.80" y="119.37" textLength="64.25" lengthAdjust="spacingAndGlyphs" transform="matrix(1 0.001 0 1 0 -0.3578)">Rothia_mucilaginosa</text>
<text x="357.80" y="127.82" textLength="74.84" lengthAdjust="spacingAndGlyphs" transform="matrix(1 0.001 0 1 0 -0.3578)">Clostridium_phoceensis</text>
<text x="357.80" y="136.27" textLength="60.44" lengthAdjust="spacingAndGlyphs" transform="matrix(1 0.001 0 1 0 -0.3578)">Alistipes_putredinis</text>
<text x="357.80" y="144.73" textLength="75.62" lengthAdjust="spacingAndGlyphs" transform="matrix(1 0.001 0 1 0 -0.3578)">Kytococcus_sedentarius</text>
<text x="357.80" y="153.18" textLength="83.91" lengthAdjust="spacingAndGlyphs" transform="matrix(1 0.001 0 1 0 -0.3578)">Eisenbergiella_massiliensis</text>
<text x="357.80" y="161.63" textLength="85.06" lengthAdjust="spacingAndGlyphs" transform="matrix(1 0.001 0 1 0 -0.3578)">Actinomyces_sp_S6_Spd3</text>
<text x="357.80" y="170.09" textLength="76.32" lengthAdjust="spacingAndGlyphs" transform="matrix(1 0.001 0 1 0 -0.3578)">Actinomyces_sp_ICM47</text>
<text x="357.80" y="178.54" textLength="103.06" lengthAdjust="spacingAndGlyphs" transform="matrix(1 0.001 0 1 0 -0.3578)">Actinomyces_sp_oral_taxon_448</text>
<text x="357.80" y="186.99" textLength="109.04" lengthAdjust="spacingAndGlyphs" transform="matrix(1 0.001 0 1 0 -0.3578)">Actinobaculum_sp_oral_taxon_183</text>
<text x="357.80" y="195.44" textLength="69.62" lengthAdjust="spacingAndGlyphs" transform="matrix(1 0.001 0 1 0 -0.3578)">Sellimonas_intestinalis</text>
<text x="357.80" y="203.90" textLength="50.24" lengthAdjust="spacingAndGlyphs" transform="matrix(1 0.001 0 1 0 -0.3578)">Blautia_hansenii</text>
<text x="357.80" y="212.35" textLength="91.24" lengthAdjust="spacingAndGlyphs" transform="matrix(1 0.001 0 1 0 -0.3578)">Lactonifactor_sp_BIOML_A6</text>
<text x="357.80" y="220.80" textLength="52.19" lengthAdjust="spacingAndGlyphs" transform="matrix(1 0.001 0 1 0 -0.3578)">Blautia_wexlerae</text>
<text x="357.80" y="229.26" textLength="101.57" lengthAdjust="spacingAndGlyphs" transform="matrix(1 0.001 0 1 0 -0.3578)">Propionibacterium_freudenreichii</text>
<text x="357.80" y="237.71" textLength="66.24" lengthAdjust="spacingAndGlyphs" transform="matrix(1 0.001 0 1 0 -0.3578)">Streptococcus_oralis</text>
<text x="357.80" y="246.16" textLength="66.20" lengthAdjust="spacingAndGlyphs" transform="matrix(1 0.001 0 1 0 -0.3578)">Isoptericola_variabilis</text>
<text x="357.80" y="254.62" textLength="71.30" lengthAdjust="spacingAndGlyphs" transform="matrix(1 0.001 0 1 0 -0.3578)">Enterocloster_citroniae</text>
<text x="357.80" y="263.07" textLength="81.29" lengthAdjust="spacingAndGlyphs" transform="matrix(1 0.001 0 1 0 -0.3578)">Dysosmobacter_welbionis</text>
<text x="357.80" y="271.52" textLength="107.67" lengthAdjust="spacingAndGlyphs" transform="matrix(1 0.001 0 1 0 -0.3578)">Agathobaculum_butyriciproducens</text>
<text x="357.80" y="279.97" textLength="72.50" lengthAdjust="spacingAndGlyphs" transform="matrix(1 0.001 0 1 0 -0.3578)">Intestinibacter_bartlettii</text>
<text x="357.80" y="288.43" textLength="85.82" lengthAdjust="spacingAndGlyphs" transform="matrix(1 0.001 0 1 0 -0.3578)">Bacteroides_cellulosilyticus</text>
<text x="357.80" y="296.88" textLength="99.22" lengthAdjust="spacingAndGlyphs" transform="matrix(1 0.001 0 1 0 -0.3578)">Phascolarctobacterium_faecium</text>
<text x="357.80" y="305.33" textLength="89.46" lengthAdjust="spacingAndGlyphs" transform="matrix(1 0.001 0 1 0 -0.3578)">Streptococcus_thermophilus</text>
<text x="357.80" y="313.79" textLength="64.18" lengthAdjust="spacingAndGlyphs" transform="matrix(1 0.001 0 1 0 -0.3578)">Streptococcus_mitis</text>
<text x="357.80" y="322.24" textLength="77.59" lengthAdjust="spacingAndGlyphs" transform="matrix(1 0.001 0 1 0 -0.3578)">Bifidobacterium_dentium</text>
<text x="357.80" y="330.69" textLength="70.54" lengthAdjust="spacingAndGlyphs" transform="matrix(1 0.001 0 1 0 -0.3578)">Enterococcus_faecalis</text>
</g>
<line x1="367.40" y1="333.30" x2="367.40" y2="336.70" stroke="#231f20" stroke-width="0.9"/>
<text font-size="6.8" text-anchor="middle" transform="translate(367.40 345.60) rotate(-45)" y="2.45" stroke="#231f20" stroke-width="0.25">0</text>
<line x1="382.30" y1="333.30" x2="382.30" y2="336.70" stroke="#231f20" stroke-width="0.9"/>
<text font-size="6.8" text-anchor="middle" transform="translate(382.30 345.60) rotate(-45)" y="2.45" stroke="#231f20" stroke-width="0.25">2</text>
<line x1="397.20" y1="333.30" x2="397.20" y2="336.70" stroke="#231f20" stroke-width="0.9"/>
<text font-size="6.8" text-anchor="middle" transform="translate(397.20 345.60) rotate(-45)" y="2.45" stroke="#231f20" stroke-width="0.25">4</text>
<line x1="412.10" y1="333.30" x2="412.10" y2="336.70" stroke="#231f20" stroke-width="0.9"/>
<text font-size="6.8" text-anchor="middle" transform="translate(412.10 345.60) rotate(-45)" y="2.45" stroke="#231f20" stroke-width="0.25">6</text>
<line x1="428.60" y1="333.30" x2="428.60" y2="336.70" stroke="#231f20" stroke-width="0.9"/>
<text font-size="6.8" text-anchor="middle" transform="translate(428.60 345.60) rotate(-45)" y="2.45" stroke="#231f20" stroke-width="0.25">0</text>
<line x1="443.50" y1="333.30" x2="443.50" y2="336.70" stroke="#231f20" stroke-width="0.9"/>
<text font-size="6.8" text-anchor="middle" transform="translate(443.50 345.60) rotate(-45)" y="2.45" stroke="#231f20" stroke-width="0.25">2</text>
<line x1="458.40" y1="333.30" x2="458.40" y2="336.70" stroke="#231f20" stroke-width="0.9"/>
<text font-size="6.8" text-anchor="middle" transform="translate(458.40 345.60) rotate(-45)" y="2.45" stroke="#231f20" stroke-width="0.25">4</text>
<line x1="473.30" y1="333.30" x2="473.30" y2="336.70" stroke="#231f20" stroke-width="0.9"/>
<text font-size="6.8" text-anchor="middle" transform="translate(473.30 345.60) rotate(-45)" y="2.45" stroke="#231f20" stroke-width="0.25">6</text>
<text x="242.60" y="208.55" font-size="8.6" textLength="22.50" lengthAdjust="spacingAndGlyphs" transform="rotate(-89.95 242.60 208.55)" style="stroke-width:0.4px">Species</text>
<text x="378.40" y="360.90" font-size="9.8" textLength="83.20" lengthAdjust="spacingAndGlyphs" transform="matrix(1 0.001 0 1 0 -0.3784)" style="stroke-width:0.4px" word-spacing="1.6">Absolute value of coefficient</text>
<text x="351.00" y="372.70" font-size="7" textLength="137.80" lengthAdjust="spacingAndGlyphs" transform="matrix(1 0.001 0 1 0 -0.3510)" class="lt">LFC &gt; 1, FDR &lt; 0.05 and ≥ 25% prevalence</text>
</g>
<text x="484.80" y="186.90" font-size="9.0" transform="matrix(1 0.001 0 1 0 -0.4848)">ICANS</text>
<rect x="485.00" y="194.20" width="6.90" height="6.50" fill="#bf0029"/>
<rect x="485.00" y="207.80" width="6.90" height="6.50" fill="#0e4484"/>
<text x="495.40" y="200.30" font-size="8.5" transform="matrix(1 0.001 0 1 0 -0.4954)">1</text>
<text x="495.40" y="213.90" font-size="8.5" transform="matrix(1 0.001 0 1 0 -0.4954)">0</text>
<g>
<text x="48.00" y="411.30" font-size="9.6" textLength="139.00" lengthAdjust="spacingAndGlyphs" transform="matrix(1 0.001 0 1 0 -0.0480)" style="stroke-width:0.1px">Fisher's Exact Test <tspan font-style="italic">P</tspan>-value: .0429</text>
<rect x="49.50" y="500.10" width="66.10" height="6.60" fill="#0f4f90"/>
<rect x="49.50" y="467.16" width="66.10" height="33.24" fill="#c20524"/>
<rect x="49.50" y="420.20" width="66.10" height="47.26" fill="#f48f06"/>
<rect x="123.00" y="498.10" width="66.00" height="8.60" fill="#c20524"/>
<rect x="123.00" y="453.95" width="66.00" height="44.45" fill="#f48f06"/>
<rect x="123.00" y="420.20" width="66.00" height="34.05" fill="#35a935"/>
<line x1="44.40" y1="416.90" x2="44.40" y2="507.35" stroke="#231f20" stroke-width="1.3"/>
<line x1="43.75" y1="506.70" x2="191.30" y2="506.70" stroke="#231f20" stroke-width="1.3"/>
<line x1="41.00" y1="506.70" x2="44.40" y2="506.70" stroke="#231f20" stroke-width="0.9"/>
<text x="37.40" y="509.15" font-size="7.2" text-anchor="end" transform="matrix(1 0.001 0 1 0 -0.0374)">0.00</text>
<line x1="41.00" y1="484.98" x2="44.40" y2="484.98" stroke="#231f20" stroke-width="0.9"/>
<text x="37.40" y="487.43" font-size="7.2" text-anchor="end" transform="matrix(1 0.001 0 1 0 -0.0374)">0.25</text>
<line x1="41.00" y1="463.25" x2="44.40" y2="463.25" stroke="#231f20" stroke-width="0.9"/>
<text x="37.40" y="465.70" font-size="7.2" text-anchor="end" transform="matrix(1 0.001 0 1 0 -0.0374)">0.50</text>
<line x1="41.00" y1="441.52" x2="44.40" y2="441.52" stroke="#231f20" stroke-width="0.9"/>
<text x="37.40" y="443.97" font-size="7.2" text-anchor="end" transform="matrix(1 0.001 0 1 0 -0.0374)">0.75</text>
<line x1="41.00" y1="419.80" x2="44.40" y2="419.80" stroke="#231f20" stroke-width="0.9"/>
<text x="37.40" y="422.25" font-size="7.2" text-anchor="end" transform="matrix(1 0.001 0 1 0 -0.0374)">1.00</text>
<line x1="82.50" y1="506.70" x2="82.50" y2="510.10" stroke="#231f20" stroke-width="0.9"/>
<text x="68.20" y="521.70" font-size="7.3" textLength="28.80" lengthAdjust="spacingAndGlyphs" transform="matrix(1 0.001 0 1 0 -0.0682)" style="stroke-width:0.15px">Dominant</text>
<line x1="156.00" y1="506.70" x2="156.00" y2="510.10" stroke="#231f20" stroke-width="0.9"/>
<text x="134.50" y="521.70" font-size="7.3" textLength="43.50" lengthAdjust="spacingAndGlyphs" transform="matrix(1 0.001 0 1 0 -0.1345)" style="stroke-width:0.15px">Non-dominant</text>
<text x="16.80" y="477.20" font-size="8.8" textLength="30.30" lengthAdjust="spacingAndGlyphs" transform="rotate(-89.95 16.80 477.20)" style="stroke-width:0.4px">Proportion</text>
<text x="109.30" y="535.20" font-size="10.2" textLength="17.30" lengthAdjust="spacingAndGlyphs" transform="matrix(1 0.001 0 1 0 -0.1093)" style="stroke-width:0.42px">Group</text>
<text x="195.00" y="423.10" font-size="7.2" transform="matrix(1 0.001 0 1 0 -0.1950)">CRS Grade</text>
<rect x="195.10" y="429.40" width="6.90" height="6.60" fill="#35a935"/>
<text x="206.00" y="435.30" font-size="7.2" transform="matrix(1 0.001 0 1 0 -0.2060)">Grade 0</text>
<rect x="195.10" y="439.65" width="6.90" height="6.60" fill="#f48f06"/>
<text x="206.00" y="445.55" font-size="7.2" transform="matrix(1 0.001 0 1 0 -0.2060)">Grade 1</text>
<rect x="195.10" y="449.90" width="6.90" height="6.60" fill="#c20524"/>
<text x="206.00" y="455.80" font-size="7.2" transform="matrix(1 0.001 0 1 0 -0.2060)">Grade 2</text>
<rect x="195.10" y="460.15" width="6.90" height="6.60" fill="#0f4f90"/>
<text x="206.00" y="466.05" font-size="7.2" transform="matrix(1 0.001 0 1 0 -0.2060)">Grade 5</text>
</g>
<g>
<text x="293.00" y="411.30" font-size="9.6" textLength="118.20" lengthAdjust="spacingAndGlyphs" transform="matrix(1 0.001 0 1 0 -0.2930)" style="stroke-width:0.1px">Fisher's Exact Test <tspan font-style="italic">P</tspan>-value: 1</text>
<rect x="284.60" y="500.01" width="65.90" height="6.39" fill="#f48f06"/>
<rect x="284.60" y="493.28" width="65.90" height="7.03" fill="#5a1e69"/>
<rect x="284.60" y="421.20" width="65.90" height="72.38" fill="#35a935"/>
<rect x="358.20" y="502.23" width="66.00" height="4.17" fill="#f48f06"/>
<rect x="358.20" y="497.28" width="66.00" height="5.25" fill="#5a1e69"/>
<rect x="358.20" y="421.20" width="66.00" height="76.38" fill="#35a935"/>
<line x1="279.10" y1="416.90" x2="279.10" y2="507.05" stroke="#231f20" stroke-width="1.3"/>
<line x1="278.45" y1="506.40" x2="425.80" y2="506.40" stroke="#231f20" stroke-width="1.3"/>
<line x1="275.70" y1="506.40" x2="279.10" y2="506.40" stroke="#231f20" stroke-width="0.9"/>
<text x="271.80" y="508.85" font-size="7.2" text-anchor="end" transform="matrix(1 0.001 0 1 0 -0.2718)">0.00</text>
<line x1="275.70" y1="484.67" x2="279.10" y2="484.67" stroke="#231f20" stroke-width="0.9"/>
<text x="271.80" y="487.12" font-size="7.2" text-anchor="end" transform="matrix(1 0.001 0 1 0 -0.2718)">0.25</text>
<line x1="275.70" y1="462.95" x2="279.10" y2="462.95" stroke="#231f20" stroke-width="0.9"/>
<text x="271.80" y="465.40" font-size="7.2" text-anchor="end" transform="matrix(1 0.001 0 1 0 -0.2718)">0.50</text>
<line x1="275.70" y1="441.23" x2="279.10" y2="441.23" stroke="#231f20" stroke-width="0.9"/>
<text x="271.80" y="443.68" font-size="7.2" text-anchor="end" transform="matrix(1 0.001 0 1 0 -0.2718)">0.75</text>
<line x1="275.70" y1="419.50" x2="279.10" y2="419.50" stroke="#231f20" stroke-width="0.9"/>
<text x="271.80" y="421.95" font-size="7.2" text-anchor="end" transform="matrix(1 0.001 0 1 0 -0.2718)">1.00</text>
<line x1="317.50" y1="506.40" x2="317.50" y2="509.80" stroke="#231f20" stroke-width="0.9"/>
<text x="303.00" y="521.40" font-size="7.3" textLength="29.00" lengthAdjust="spacingAndGlyphs" transform="matrix(1 0.001 0 1 0 -0.3030)" style="stroke-width:0.15px">Dominant</text>
<line x1="390.80" y1="506.40" x2="390.80" y2="509.80" stroke="#231f20" stroke-width="0.9"/>
<text x="369.60" y="521.40" font-size="7.3" textLength="43.20" lengthAdjust="spacingAndGlyphs" transform="matrix(1 0.001 0 1 0 -0.3696)" style="stroke-width:0.15px">Non-dominant</text>
<text x="251.80" y="477.30" font-size="8.8" textLength="30.30" lengthAdjust="spacingAndGlyphs" transform="rotate(-89.95 251.80 477.30)" style="stroke-width:0.4px">Proportion</text>
<text x="343.80" y="534.90" font-size="10.2" textLength="17.50" lengthAdjust="spacingAndGlyphs" transform="matrix(1 0.001 0 1 0 -0.3438)" style="stroke-width:0.42px">Group</text>
<text x="429.20" y="423.10" font-size="7.2" transform="matrix(1 0.001 0 1 0 -0.4292)">ICANS Grade</text>
<rect x="429.30" y="429.40" width="6.90" height="6.60" fill="#35a935"/>
<text x="439.90" y="435.30" font-size="7.2" transform="matrix(1 0.001 0 1 0 -0.4399)">Grade 0</text>
<rect x="429.30" y="439.65" width="6.90" height="6.60" fill="#5a1e69"/>
<text x="439.90" y="445.55" font-size="7.2" transform="matrix(1 0.001 0 1 0 -0.4399)">Grade 4</text>
<rect x="429.30" y="449.90" width="6.90" height="6.60" fill="#f48f06"/>
<text x="439.90" y="455.80" font-size="7.2" transform="matrix(1 0.001 0 1 0 -0.4399)">Grade 1</text>
</g>
</svg>
<div id="frame"></div>
</div>
</body>
</html>
